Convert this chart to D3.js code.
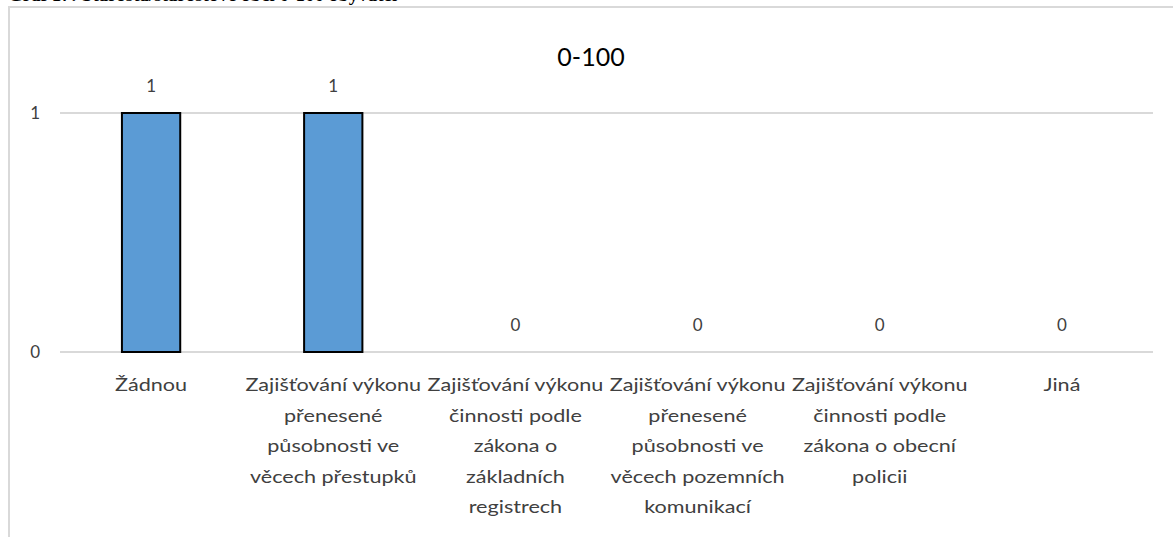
<!DOCTYPE html>
<html><head><meta charset="utf-8">
<script src="https://cdn.jsdelivr.net/npm/d3@7"></script>
<style>body{margin:0;background:#fff;overflow:hidden}</style>
</head><body>
<svg id="c" width="1173" height="537"></svg>
<script>
const categories = [
  ["Žádnou"],
  ["Zajišťování výkonu","přenesené","působnosti ve","věcech přestupků"],
  ["Zajišťování výkonu","činnosti podle","zákona o","základních","registrech"],
  ["Zajišťování výkonu","přenesené","působnosti ve","věcech pozemních","komunikací"],
  ["Zajišťování výkonu","činnosti podle","zákona o obecní","policii"],
  ["Jiná"]
];
const values = [1, 1, 0, 0, 0, 0];
const yTicks = [0, 1];
const chartTitle = "0-100";
const caption = "Graf 17: Starosta/starostové obcí 0-100 obyvatel";

(function(){
const svg = d3.select("#c");
const font = "Lato, 'Open Sans', sans-serif";

svg.append("text").attr("x", 8).attr("y", 1).attr("font-family", "'Liberation Serif', serif")
  .attr("font-size", 19).attr("font-weight", "bold").attr("fill", "#000").text(caption);

svg.append("rect").attr("x", 9).attr("y", 7).attr("width", 1200).attr("height", 600)
  .attr("fill", "#fff").attr("stroke", "#d9d9d9").attr("stroke-width", 2);

const pl = 60, pr = 1153, pt = 113, pb = 352;
const x = d3.scaleBand().domain(d3.range(categories.length)).range([pl, pr]).paddingInner(0.68).paddingOuter(0.34);
const y = d3.scaleLinear().domain([0, 1]).range([pb, pt]);
const sx = 1.27;

svg.append("g").selectAll("line").data(yTicks).join("line")
  .attr("x1", pl).attr("x2", pr).attr("y1", d => y(d)).attr("y2", d => y(d))
  .attr("stroke", "#d9d9d9").attr("stroke-width", 2);

const yAxis = d3.axisLeft(y).tickValues(yTicks).tickFormat(d3.format("d")).tickSize(0).tickPadding(20);
const ya = svg.append("g").attr("transform", `translate(${pl},0)`).call(yAxis);
ya.select(".domain").remove();
ya.selectAll("text").attr("font-family", font).attr("font-size", 17).attr("fill", "#404040");

svg.append("g").selectAll("rect").data(values).join("rect")
  .attr("x", (d, i) => x(i)).attr("width", x.bandwidth())
  .attr("y", d => y(d)).attr("height", d => y(0) - y(d))
  .attr("fill", "#5b9bd5").attr("stroke", "#000").attr("stroke-width", 2)
  .attr("display", d => d > 0 ? null : "none");

svg.append("g").selectAll("text").data(values).join("text")
  .attr("x", (d, i) => x(i) + x.bandwidth() / 2).attr("y", d => y(d) - 21)
  .attr("text-anchor", "middle").attr("font-family", font).attr("font-size", 17).attr("fill", "#404040")
  .text(d => d);

const xl = svg.append("g");
categories.forEach((lines, i) => {
  const g = xl.append("g").attr("transform", `translate(${x(i) + x.bandwidth() / 2},0) scale(${sx},1)`);
  const t = g.append("text").attr("text-anchor", "middle").attr("font-family", font)
    .attr("font-size", 17).attr("fill", "#404040");
  lines.forEach((ln, j) => {
    t.append("tspan").attr("x", 0).attr("y", 391 + j * 30.6).text(ln);
  });
});

svg.append("text").attr("x", 591).attr("y", 66).attr("text-anchor", "middle")
  .attr("font-family", font).attr("font-size", 25).attr("fill", "#000").text(chartTitle);
})();
</script>
</body></html>
